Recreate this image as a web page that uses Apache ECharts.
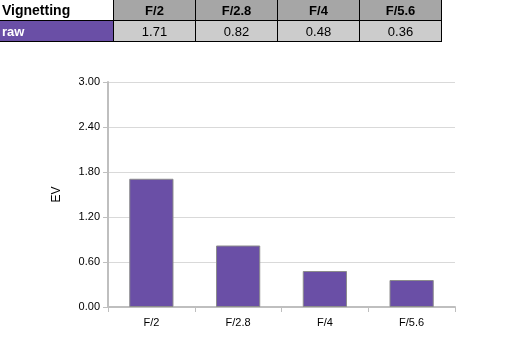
<!DOCTYPE html>
<html><head><meta charset="utf-8">
<script src="https://cdn.jsdelivr.net/npm/echarts@6/dist/echarts.min.js"></script>
<style>
html,body{margin:0;padding:0;background:#fff;width:523px;height:356px;overflow:hidden;font-family:"Liberation Sans",Arial,sans-serif;}
#tbl{position:absolute;left:0;top:0;border-collapse:collapse;font-size:13px;}
#tbl td{padding:0;height:20px;text-align:center;border:1px solid #000;}
#tbl tr:first-child td{border-top:none;}
#chart{position:absolute;left:0;top:0;width:523px;height:356px;}
</style></head><body>
<div id="chart"></div>
<table id="tbl"></table>
<script>
const tableTitle = "Vignetting";
const seriesName = "raw";
const categories = ["F/2", "F/2.8", "F/4", "F/5.6"];
const values = [1.71, 0.82, 0.48, 0.36];
const yTicks = [0, 0.6, 1.2, 1.8, 2.4, 3.0];

// table
const tbl = document.getElementById('tbl');
let h = '<tr><td style="width:111px;padding-left:2px;border:none;border-bottom:1px solid #000;text-align:left;font-weight:bold;font-size:14px;">' + tableTitle + '</td>';
categories.forEach(c => { h += '<td style="width:81px;background:#a6a6a6;font-weight:bold;">' + c + '</td>'; });
h += '</tr><tr><td style="background:#6a4fa6;color:#fff;text-align:left;padding-left:2px;font-weight:bold;border-left:none;">' + seriesName + '</td>';
values.forEach(v => { h += '<td style="background:#cccccc;">' + v.toFixed(2) + '</td>'; });
h += '</tr>';
tbl.innerHTML = h;

const chart = echarts.init(document.getElementById('chart'));
chart.setOption({
  animation: false,
  grid: {left: 108, right: 68, top: 82, bottom: 49},
  xAxis: {
    type: 'category', data: categories,
    axisLine: {lineStyle: {color: '#bfbfbf', width: 2}},
    axisTick: {show: true, length: 5, lineStyle: {color: '#bfbfbf'}},
    axisLabel: {color: '#000', fontSize: 11, margin: 10, fontFamily: 'Liberation Sans'}
  },
  yAxis: {
    type: 'value', min: yTicks[0], max: yTicks[yTicks.length-1], interval: 0.6,
    name: 'EV', nameLocation: 'middle', nameGap: 45, nameRotate: 90,
    nameTextStyle: {color: '#000', fontSize: 12, fontFamily: 'Liberation Sans'},
    axisLine: {show: true, lineStyle: {color: '#bfbfbf', width: 2}},
    axisTick: {show: true, length: 5, lineStyle: {color: '#bfbfbf'}},
    axisLabel: {color: '#000', fontSize: 11, margin: 8, fontFamily: 'Liberation Sans', formatter: v => v.toFixed(2)},
    splitLine: {lineStyle: {color: '#d9d9d9', width: 1}}
  },
  series: [{
    type: 'bar', name: seriesName, data: values, barWidth: '51%',
    itemStyle: {color: '#6a4fa6', borderColor: '#8c8c8c', borderWidth: 1}
  }]
});
</script>
</body></html>
